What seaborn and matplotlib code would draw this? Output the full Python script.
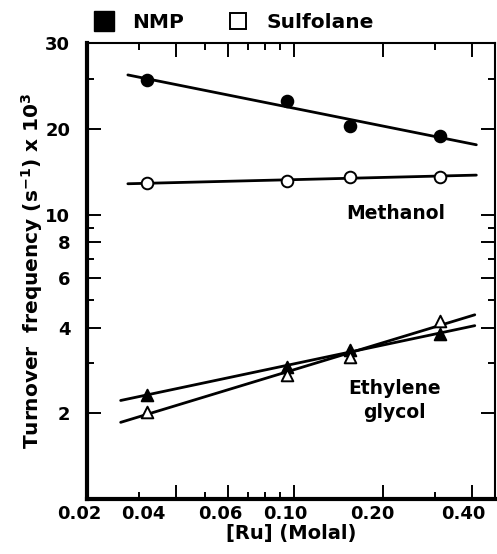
import numpy as np
import pandas as pd
import matplotlib
matplotlib.use("Agg")
import matplotlib.pyplot as plt
import matplotlib.transforms as mtransforms
from matplotlib.lines import Line2D
import seaborn as sns

# data
ru_conc = [0.032, 0.095, 0.155, 0.312]
meoh_nmp = [29.7, 25.1, 20.5, 18.9]
meoh_sulfolane = [12.9, 13.1, 13.6, 13.6]
eg_nmp = [2.33, 2.92, 3.33, 3.82]
eg_sulfolane = [2.03, 2.74, 3.17, 4.21]

x_major = [0.02, 0.04, 0.06, 0.10, 0.20, 0.40]
x_major_labels = ["0.02", "0.04", "0.06", "0.10", "0.20", "0.40"]
x_minor = [0.03, 0.05, 0.07, 0.08, 0.09, 0.30]
y_major = [2, 4, 6, 8, 10, 20, 40]
y_major_labels = ["2", "4", "6", "8", "10", "20", "30"]
y_minor = [3, 5, 7, 9, 30]

rows = []
for solvent, alcohol, vals in [("NMP", "Methanol", meoh_nmp),
                               ("Sulfolane", "Methanol", meoh_sulfolane),
                               ("NMP", "Ethylene glycol", eg_nmp),
                               ("Sulfolane", "Ethylene glycol", eg_sulfolane)]:
    for c, v in zip(ru_conc, vals):
        rows.append({"conc": c, "tof": v, "solvent": solvent, "alcohol": alcohol})
df = pd.DataFrame(rows)

sns.set_theme(style="ticks")
plt.rcParams["font.family"] = ["DejaVu Sans"]
plt.rcParams["font.weight"] = "bold"
plt.rcParams["axes.labelweight"] = "bold"
for key in ["text.color", "axes.labelcolor", "xtick.color", "ytick.color",
            "axes.edgecolor"]:
    plt.rcParams[key] = "black"

fig = plt.figure(figsize=(4.97, 5.54), dpi=100)
ax = fig.add_axes([0.175, 0.099, 0.821, 0.823])

fit_range = {"Methanol": (0.0275, 0.415), "Ethylene glycol": (0.026, 0.41)}
marker_of = {"Methanol": "o", "Ethylene glycol": "^"}

for (solvent, alcohol), sub in df.groupby(["solvent", "alcohol"]):
    # straight line fit in log-log space
    k, b = np.polyfit(np.log10(sub["conc"]), np.log10(sub["tof"]), 1)
    xs = np.array(fit_range[alcohol])
    fit = pd.DataFrame({"conc": xs, "tof": 10 ** (b + k * np.log10(xs))})
    sns.lineplot(data=fit, x="conc", y="tof", color="black", lw=2.0, ax=ax,
                 zorder=2)
    face = "black" if solvent == "NMP" else "white"
    sns.scatterplot(data=sub, x="conc", y="tof", marker=marker_of[alcohol],
                    s=70, color=face, edgecolor="black", linewidth=1.4,
                    ax=ax, zorder=3)

ax.set_xscale("log")
ax.set_yscale("log")
ax.set_xlim(0.0205, 0.48)
ax.set_ylim(1.0, 40)

ax.set_xticks(x_major)
ax.set_xticklabels(x_major_labels)
ax.set_xticks(x_minor, minor=True)
ax.set_xticklabels([], minor=True)
ax.set_yticks(y_major)
ax.set_yticklabels(y_major_labels)
ax.set_yticks(y_minor, minor=True)
ax.set_yticklabels([], minor=True)

ax.tick_params(which="both", direction="in", top=True, right=True,
               labelsize=13, width=1.4)
ax.tick_params(which="major", length=10)
ax.tick_params(which="minor", length=5)
ax.tick_params(axis="x", which="major", pad=4)
ax.tick_params(axis="y", which="major", pad=12)

# the original prints its x labels a little left of the ticks
label_shift_px = [-8, -33, -8, -8, -10, -8]
for lab, dx in zip(ax.get_xticklabels(), label_shift_px):
    shift = mtransforms.ScaledTranslation(dx / 100, 0, fig.dpi_scale_trans)
    lab.set_transform(lab.get_transform() + shift)

for side in ["left", "bottom"]:
    ax.spines[side].set_linewidth(3)
for side in ["top", "right"]:
    ax.spines[side].set_linewidth(1.5)

ax.set_xlabel("[Ru] (Molal)", fontsize=14, labelpad=1)
ax.set_ylabel("Turnover  frequency (s$^{-1}$) x 10$^{3}$", fontsize=14.5,
              labelpad=0)

ax.text(0.221, 10.1, "Methanol", ha="center", va="center", fontsize=13.5)
ax.text(0.219, 2.22, "Ethylene\nglycol", ha="center", va="center",
        fontsize=13.5, linespacing=1.3)

handles = [Line2D([], [], marker="s", ls="none", color="black", mfc="black",
                  markersize=14),
           Line2D([], [], marker="s", ls="none", color="black", mfc="white",
                  mew=1.4, markersize=12)]
fig.legend(handles, ["NMP", "Sulfolane"], ncol=2, loc="center left",
           bbox_to_anchor=(0.188, 0.96), frameon=False, handlelength=1,
           handletextpad=0.9, columnspacing=2.2, borderaxespad=0,
           borderpad=0, prop={"size": 14.5, "weight": "bold"})

fig.savefig("out.png", dpi=100)
